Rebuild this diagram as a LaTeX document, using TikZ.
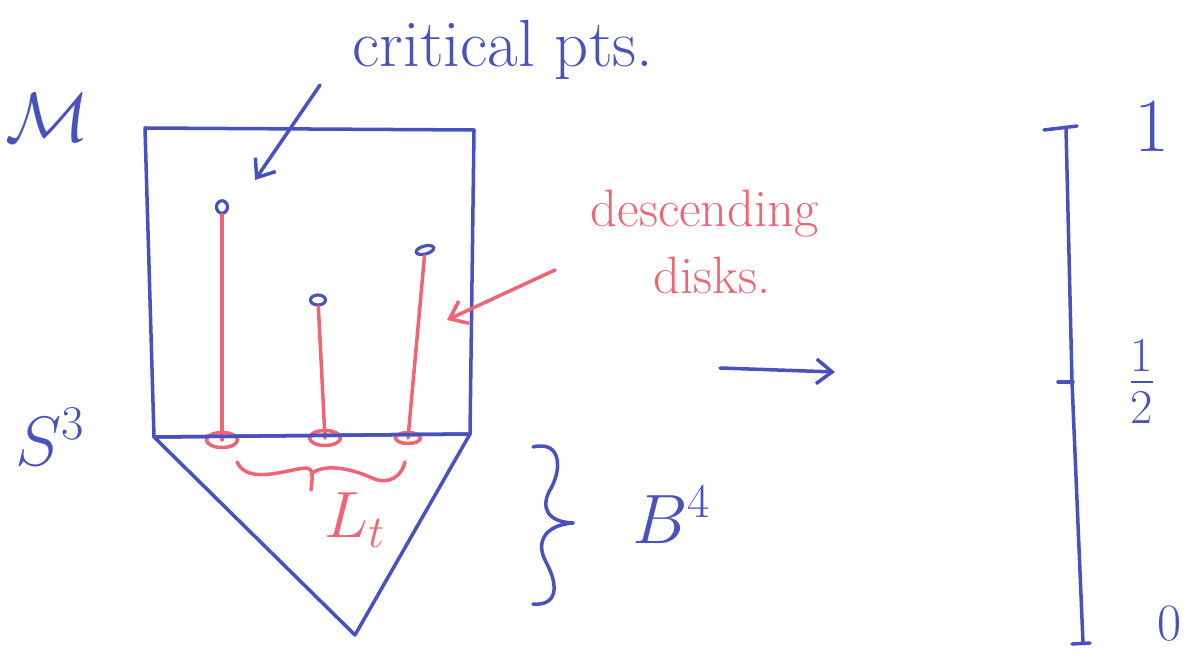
\documentclass[tikz,border=0pt]{standalone}
\usepackage{graphicx}
\usepackage{amsmath,amssymb}
\usetikzlibrary{arrows.meta,shapes.geometric}
\definecolor{penblue}{RGB}{72,82,190}
\definecolor{penred}{RGB}{240,100,115}
\newcommand{\bigmath}[2]{\scalebox{#1}{$#2$}}
\begin{document}
\begin{tikzpicture}[x=0.02cm,y=-0.02cm,
  blueline/.style={draw=penblue,line width=2pt,line cap=round,line join=round},
  redline/.style={draw=penred,line width=2pt,line cap=round,line join=round},
  crit/.style={draw=penblue,line width=1.8pt,ellipse,minimum width=0.22cm,minimum height=0.25cm,inner sep=0pt},
  foot/.style={draw=penred,line width=2pt,ellipse,minimum width=0.62cm,minimum height=0.3cm,inner sep=0pt},
  bluetext/.style={text=penblue,font=\fontsize{24}{30}\selectfont,inner sep=0pt},
  redtext/.style={text=penred,font=\fontsize{24}{30}\selectfont,inner sep=0pt,align=center},
  barb/.style={-{Straight Barb[length=9pt,width=14pt]}}
]
\useasboundingbox (0,0) rectangle (1193,655);
% box M x [0,1]
\coordinate (tl) at (145,128);
\coordinate (tr) at (474,130);
\coordinate (br) at (470,434);
\coordinate (bl) at (154,437);
\coordinate (tip) at (355,635);
\draw[blueline] (tl) -- (tr) -- (br) -- (bl) -- cycle;
\draw[blueline] (bl) -- (tip) -- (br);
% critical points and descending disks
\node[crit] (c1) at (222,207) {};
\node[crit,minimum width=0.3cm,minimum height=0.2cm] (c2) at (318,300) {};
\node[crit,minimum width=0.36cm,minimum height=0.16cm,rotate=15] (c3) at (425,250) {};
\node[foot] (f1) at (222,440) {};
\node[foot] (f2) at (325,438) {};
\node[foot,minimum width=0.5cm,minimum height=0.22cm] (f3) at (408,438) {};
\draw[redline] (c1) -- (f1.center);
\draw[redline] (c2) -- (f2.center);
\draw[redline] (c3) -- (f3.center);
\draw[blueline] (bl) -- (br);
% L_t brace
\draw[redline] (237,462) .. controls (248,485) and (285,470) .. (305,468)
  .. controls (315,468) and (312,478) .. (311,490);
\draw[redline] (311,474) .. controls (325,462) and (355,470) .. (372,478)
  .. controls (390,486) and (402,475) .. (405,462);
\node[redtext] (lt) at (355,520) {\bigmath{1.5}{L_t}};
% labels
\node[bluetext,font=\fontsize{38}{44}\selectfont] (crtext) at (503,50) {critical pts.};
\coordinate (crA) at (320,85);
\coordinate (crB) at (255,180);
\draw[blueline,barb] (crA) -- (crB);
\node[redtext,font=\fontsize{30}{36}\selectfont] (desc) at (705,242) {descending\\[2pt]\hspace*{8pt}disks.};
\coordinate (dsA) at (555,270);
\coordinate (dsB) at (447,320);
\draw[redline,barb] (dsA) -- (dsB);
\node[bluetext] (M) at (47,118) {\bigmath{1.6}{\mathcal{M}}};
\node[bluetext] (S3) at (50,437) {\bigmath{1.6}{S^3}};
% B^4 brace
\draw[blueline] (533,447) .. controls (562,440) and (562,470) .. (550,490)
  .. controls (540,508) and (548,522) .. (573,523);
\draw[blueline] (573,523) .. controls (545,525) and (535,542) .. (546,562)
  .. controls (560,588) and (556,606) .. (533,604);
\node[bluetext] (B4) at (672,515) {\bigmath{1.6}{B^4}};
% arrow to interval
\coordinate (arA) at (720,368);
\coordinate (arB) at (835,372);
\draw[blueline,barb] (arA) -- (arB);
% interval
\coordinate (i1) at (1066,128);
\coordinate (ih) at (1072,382);
\coordinate (i0) at (1083,643);
\draw[blueline] (i1) -- (ih) -- (i0);
\draw[blueline] (1044,130) -- (1077,126);
\draw[blueline] (1058,382) -- (1073,382);
\draw[blueline] (1072,644) -- (1090,643);
\node[bluetext] (one) at (1152,127) {\bigmath{1.75}{1}};
\node[bluetext] (half) at (1142,382) {\bigmath{1.6}{\frac{1}{2}}};
\node[bluetext] (zero) at (1170,624) {\bigmath{1.2}{0}};
\end{tikzpicture}
\end{document}
